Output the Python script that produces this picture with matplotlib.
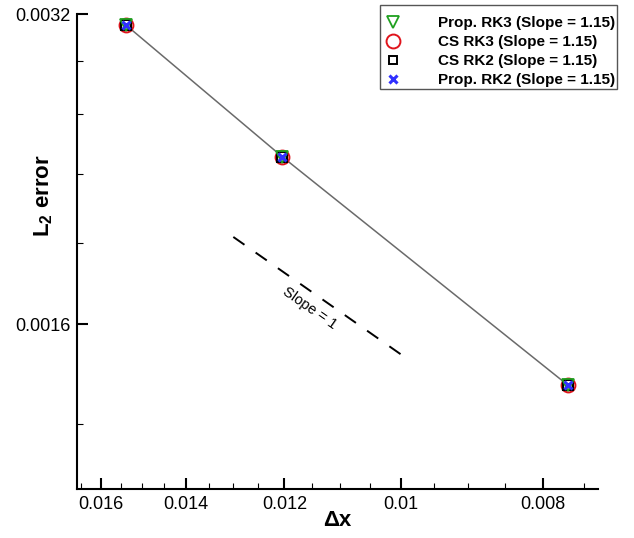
import numpy as np
import matplotlib
matplotlib.use('Agg')
import matplotlib.pyplot as plt
from matplotlib.ticker import FixedLocator, FixedFormatter, NullFormatter
from matplotlib.lines import Line2D

plt.rcParams['font.family'] = ['Liberation Sans', 'DejaVu Sans']
plt.rcParams['mathtext.fontset'] = 'custom'
plt.rcParams['mathtext.rm'] = 'Liberation Sans'
plt.rcParams['mathtext.bf'] = 'Liberation Sans:bold'

# grid spacing and L2 errors
dx = [0.01538, 0.01204, 0.00770]
err_prop_rk3 = [0.003124, 0.002327, 0.001397]
err_cs_rk3 = [0.003124, 0.002327, 0.001397]
err_cs_rk2 = [0.003124, 0.002327, 0.001397]
err_prop_rk2 = [0.003124, 0.002327, 0.001397]
labels = ['Prop. RK3 (Slope = 1.15)', 'CS RK3 (Slope = 1.15)',
          'CS RK2 (Slope = 1.15)', 'Prop. RK2 (Slope = 1.15)']

# reference slope-1 line
ref_x = [0.0130, 0.0100]
ref_y = [0.001945, 0.001496]

xticks = [0.016, 0.014, 0.012, 0.01, 0.008]
xticklabels = ['0.016', '0.014', '0.012', '0.01', '0.008']
yticks = [0.0016, 0.0032]
yticklabels = ['0.0016', '0.0032']
xminor = [0.0165, 0.0155, 0.015, 0.0145, 0.0135, 0.013, 0.0125, 0.0115,
          0.011, 0.0105, 0.0095, 0.009, 0.0085, 0.0075]
yminor = [0.00128, 0.00192, 0.00224, 0.00256, 0.00288]

fig = plt.figure(figsize=(6.34, 5.38), dpi=100)
ax = fig.add_axes([0.1219, 0.0911, 0.8208, 0.8823])
ax.set_xscale('log')
ax.set_yscale('log')

ax.plot(dx, err_prop_rk3, color='#6a6a6a', lw=1.1, zorder=2)
ax.plot(dx, err_cs_rk3, ls='none', marker='o', ms=10, mfc='none', mec='#e0141c', mew=1.4, zorder=3)
ax.plot(dx, err_cs_rk2, ls='none', marker='s', ms=6.5, mfc='none', mec='black', mew=1.5, zorder=4)
ax.plot(dx, err_prop_rk3, ls='none', marker='v', ms=8, mfc='none', mec='#1fa01f', mew=1.3, zorder=5)
ax.plot(dx, err_prop_rk2, ls='none', marker='x', ms=6, mec='#3030ff', mew=2.2, zorder=6)

ax.plot(ref_x, ref_y, color='black', lw=1.4, dashes=(7, 7))
ax.text(0.01153, 0.00166, 'Slope = 1', rotation=-35, rotation_mode='anchor',
        ha='center', va='center', fontsize=10.5)

ax.set_xlim(0.0166, 0.007346)
ax.set_ylim(0.001107, 0.0032)

ax.xaxis.set_major_locator(FixedLocator(xticks))
ax.xaxis.set_major_formatter(FixedFormatter(xticklabels))
ax.xaxis.set_minor_locator(FixedLocator(xminor))
ax.xaxis.set_minor_formatter(NullFormatter())
ax.yaxis.set_major_locator(FixedLocator(yticks))
ax.yaxis.set_major_formatter(FixedFormatter(yticklabels))
ax.yaxis.set_minor_locator(FixedLocator(yminor))
ax.yaxis.set_minor_formatter(NullFormatter())

for s in ['top', 'right']:
    ax.spines[s].set_visible(False)
for s in ['left', 'bottom']:
    ax.spines[s].set_linewidth(1.5)
ax.tick_params(which='major', direction='in', length=8, width=1.5, labelsize=13, pad=5)
ax.tick_params(which='minor', direction='in', length=4.5, width=0.8)

ax.set_xlabel('Δx', fontsize=16, fontweight='bold')
ax.set_ylabel(r'$\mathbf{L_2}$ error', fontsize=16, fontweight='bold')
ax.xaxis.set_label_coords(0.5, -0.045)
ax.yaxis.set_label_coords(-0.043, 0.618)

handles = [
    Line2D([], [], ls='none', marker='v', ms=9, mfc='none', mec='#1fa01f', mew=1.3),
    Line2D([], [], ls='none', marker='o', ms=10, mfc='none', mec='#e0141c', mew=1.4),
    Line2D([], [], ls='none', marker='s', ms=6, mfc='none', mec='black', mew=1.4),
    Line2D([], [], ls='none', marker='x', ms=6, mec='#3030ff', mew=2.2),
]
# tiny blank title gives the extra room above the first entry
leg = fig.legend(handles, labels, loc='upper right', bbox_to_anchor=(0.9732, 0.9907),
                 bbox_transform=fig.transFigure, borderaxespad=0, fancybox=False,
                 prop={'weight': 'bold', 'size': 11}, borderpad=0.1, handlelength=1.45,
                 handletextpad=2.25, labelspacing=0.32, framealpha=1,
                 title=' ', title_fontsize=3.5)
leg.get_frame().set_edgecolor('#555555')
leg.get_frame().set_linewidth(1.0)

fig.savefig('out.png', dpi=100)
